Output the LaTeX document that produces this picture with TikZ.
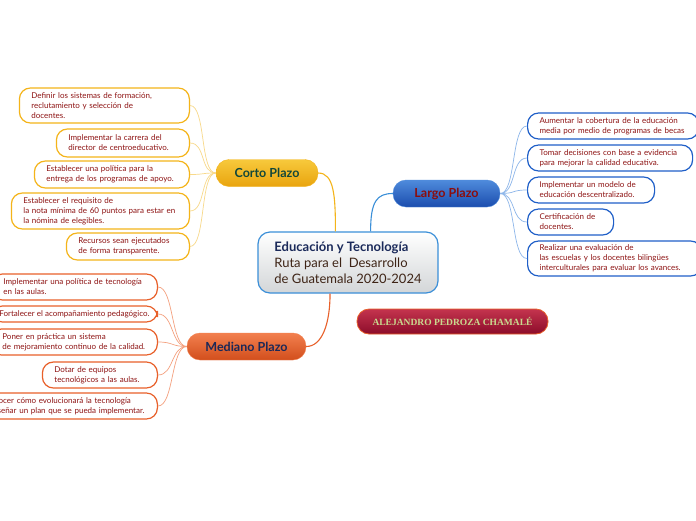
\documentclass[tikz,border=0pt]{standalone}
\usepackage{fontspec}
\setmainfont{Lato}
\newfontfamily\namefont{Liberation Serif}

\definecolor{leaftext}{HTML}{8E1414}
\definecolor{cortoline}{HTML}{F4B41A}
\definecolor{cortolink}{HTML}{F8D98A}
\definecolor{cortotop}{HTML}{F7C93C}
\definecolor{cortobot}{HTML}{E9A40E}
\definecolor{cortotext}{HTML}{12473A}
\definecolor{largoline}{HTML}{1F5FC8}
\definecolor{largolink}{HTML}{8DB6EA}
\definecolor{largotop}{HTML}{4F8BDC}
\definecolor{largobot}{HTML}{1B4DAE}
\definecolor{largotext}{HTML}{8B0D0D}
\definecolor{medline}{HTML}{E8602A}
\definecolor{medlink}{HTML}{F4A07E}
\definecolor{medtop}{HTML}{F2804F}
\definecolor{medbot}{HTML}{D24E1C}
\definecolor{medtext}{HTML}{1A2858}
\definecolor{nametop}{HTML}{C4344E}
\definecolor{namebot}{HTML}{8C0C2A}
\definecolor{nametext}{HTML}{C9D98E}
\definecolor{centerline}{HTML}{3B8FD8}
\definecolor{centerbot}{HTML}{D3D6D8}
\definecolor{centernavy}{HTML}{1B2A5A}
\definecolor{centerbrown}{HTML}{3E2416}

\begin{document}
\begin{tikzpicture}[x=1pt, y=-1pt]

  % ---------- Styling ----------
  \tikzset{
    leaf/.style={draw, fill=white, line width=1.2pt, rounded corners=11pt,
      align=left, text=leaftext, inner xsep=12pt, inner ysep=2pt,
      font=\fontsize{8}{10}\selectfont},
    cortoleaf/.style={leaf, draw=cortoline, anchor=east},
    largoleaf/.style={leaf, draw=largoline, anchor=west},
    medleaf/.style={leaf, draw=medline, anchor=east},
    branch/.style={rounded corners=13pt, inner sep=0pt, minimum height=27pt,
      font=\bfseries\fontsize{12.5}{14}\selectfont},
    link/.style={line width=0.7pt},
    mainlink/.style={line width=1.1pt}
  }

  % ---------- Canvas ----------
  \useasboundingbox (0,0) rectangle (696,520);
  \fill[white] (0,0) rectangle (696,520);
  \clip (0,0) rectangle (696,520);

  % ---------- Central topic ----------
  \node[draw=centerline, line width=1.2pt, rounded corners=12pt,
    top color=white, bottom color=centerbot, minimum width=180pt,
    minimum height=61pt, inner sep=0pt, align=left, text=centerbrown,
    font=\fontsize{13}{16}\selectfont] (center) at (348,262.5)
    {{\bfseries\color{centernavy}Educación y Tecnología}\\
     Ruta para el\ \ Desarrollo\\
     de Guatemala 2020-2024};

  % ---------- Branches ----------
  \node[branch, draw=cortoline, top color=cortotop, bottom color=cortobot,
    text=cortotext, minimum width=102pt] (corto) at (267,173) {Corto Plazo};
  \node[branch, draw=largotop, top color=largotop, bottom color=largobot,
    text=largotext, minimum width=107pt] (largo) at (446.5,193.5) {Largo Plazo};
  \node[branch, draw=medtop, top color=medtop, bottom color=medbot,
    text=medtext, minimum width=119pt] (mediano) at (246.5,346.5) {Mediano Plazo};

  % author tag
  \node[draw=medline, line width=0.8pt, rounded corners=12pt,
    top color=nametop, bottom color=namebot, text=nametext,
    minimum width=191pt, minimum height=25pt, inner sep=0pt,
    font=\namefont\bfseries\fontsize{9.5}{11}\selectfont] (autor)
    at (452.5,321.5) {ALEJANDRO PEDROZA CHAMALÉ};

  % ---------- Corto Plazo leaves ----------
  \node[cortoleaf, text width=146pt, minimum height=35pt] (c1) at (190,105.5)
    {Definir los sistemas de formación,\\ reclutamiento y selección de\\ docentes.};
  \node[cortoleaf, text width=109pt, minimum height=28pt] (c2) at (190,143)
    {Implementar la carrera del\\ director de centroeducativo.};
  \node[cortoleaf, text width=131pt, minimum height=27pt] (c3) at (190,174.5)
    {Establecer una política para la\\ entrega de los programas de apoyo.};
  \node[cortoleaf, text width=154pt, minimum height=36pt] (c4) at (190,211)
    {Establecer el requisito de\\ la nota mínima de 60 puntos para estar en\\ la nómina de elegibles.};
  \node[cortoleaf, text width=99pt, minimum height=27pt] (c5) at (190,246.5)
    {Recursos sean ejecutados\\ de forma transparente.};

  % ---------- Largo Plazo leaves ----------
  \node[largoleaf, text width=147pt, minimum height=26pt] (l1) at (527,126)
    {Aumentar la cobertura de la educación\\ media por medio de programas de becas};
  \node[largoleaf, text width=141pt, minimum height=26pt] (l2) at (527,158)
    {Tomar decisiones con base a evidencia\\ para mejorar la calidad educativa.};
  \node[largoleaf, text width=103pt, minimum height=26pt] (l3) at (527,190)
    {Implementar un modelo de\\ educación descentralizado.};
  \node[largoleaf, text width=62pt, minimum height=26pt] (l4) at (527,222)
    {Certificación de\\ docentes.};
  \node[largoleaf, text width=150pt, minimum height=35pt] (l5) at (527,258.5)
    {Realizar una evaluación de\\ las escuelas y los docentes bilingües\\ interculturales para evaluar los avances.};

  % ---------- Mediano Plazo leaves ----------
  \node[medleaf, text width=142pt, minimum height=26pt] (m1) at (158,287)
    {Implementar una política de tecnología\\ en las aulas.};
  \node[medleaf, inner xsep=8pt, minimum height=16pt] (m2) at (158,314)
    {Fortalecer el acompañamiento pedagógico.};
  \node[medleaf, text width=143pt, minimum height=26pt] (m3) at (158,342)
    {Poner en práctica un sistema\\ de mejoramiento continuo de la calidad.};
  \node[medleaf, text width=91pt, minimum height=26pt] (m4) at (158,375)
    {Dotar de equipos\\ tecnológicos a las aulas.};
  \node[medleaf, text width=161pt, minimum height=26pt] (m5) at (158,406)
    {Conocer cómo evolucionará la tecnología\\ y diseñar un plan que se pueda implementar.};

  % ---------- Main connectors ----------
  \draw[mainlink, cortoline] (corto.east) .. controls +(16,0) and +(0,-35) .. (center.112);
  \draw[mainlink, centerline] (center.54) .. controls +(0,-30) and +(-16,0) .. (largo.west);
  \draw[mainlink, medline] (center.240) .. controls +(0,30) and +(16,0) .. (mediano.east);

  % ---------- Leaf connectors ----------
  \foreach \n in {c1,c2,c3,c4,c5}
    \draw[link, cortolink] (corto.west) .. controls +(-16,0) and +(16,0) .. (\n.east);
  \foreach \n in {l1,l2,l3,l4,l5}
    \draw[link, largolink] (largo.east) .. controls +(16,0) and +(-16,0) .. (\n.west);
  \foreach \n in {m1,m2,m3,m4,m5}
    \draw[link, medlink] (mediano.west) .. controls +(-16,0) and +(16,0) .. (\n.east);

\end{tikzpicture}
\end{document}
